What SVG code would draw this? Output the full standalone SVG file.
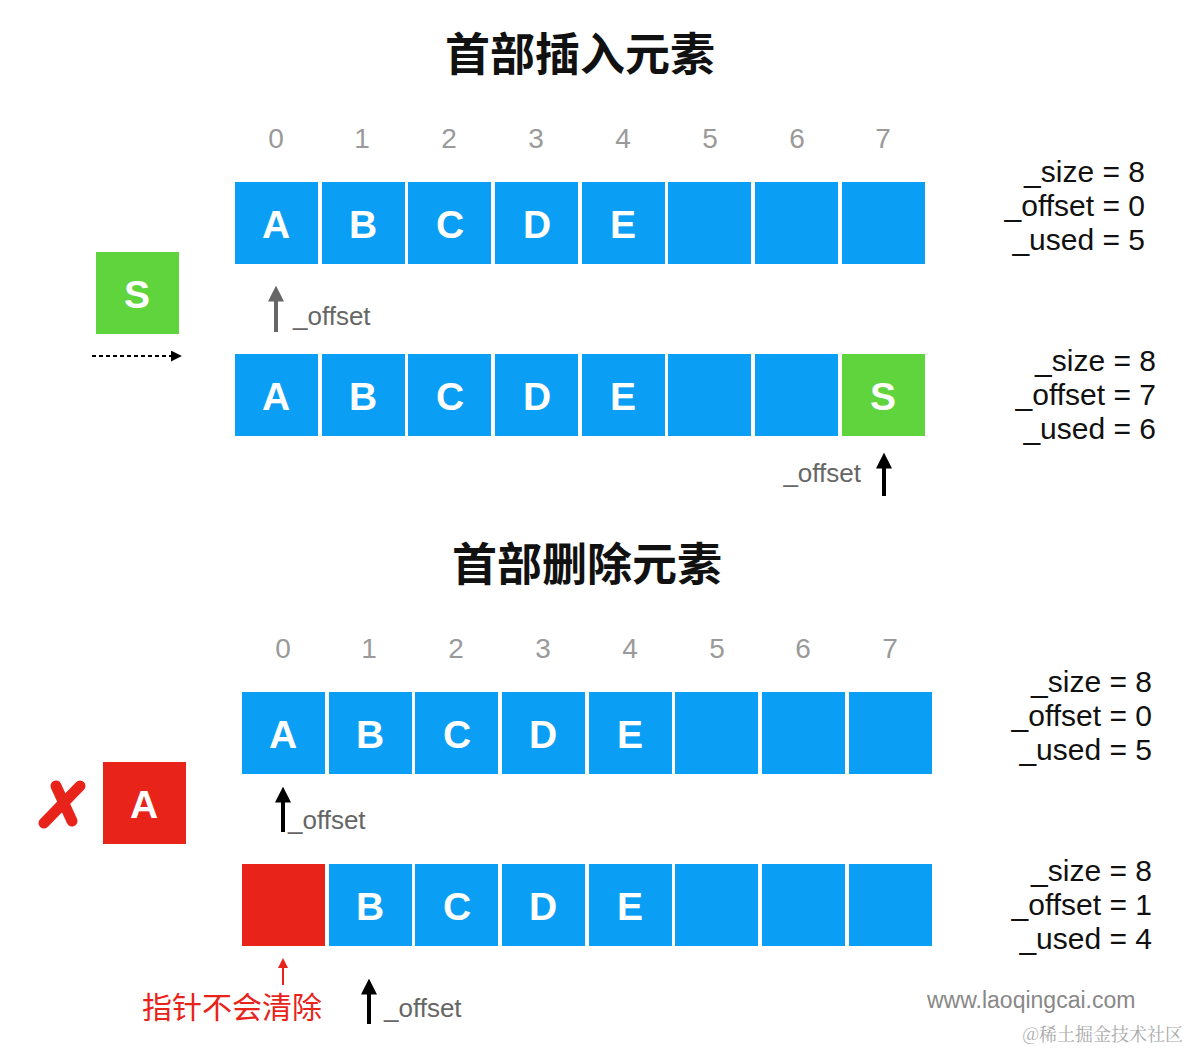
<svg xmlns="http://www.w3.org/2000/svg" width="1190" height="1052" viewBox="0 0 1190 1052">
<style>
.title{font-family:"Noto Sans CJK SC","Liberation Sans",sans-serif;font-weight:bold;font-size:45px;fill:#111;text-anchor:middle}
.idx{font-family:"Liberation Sans",Arial,sans-serif;font-size:28px;fill:#9a9a9a;text-anchor:middle}
.cell{fill:#0a9ff5}
.red{fill:#e8231a}
.green{fill:#5fd43d}
.lt{font-family:"Liberation Sans",Arial,sans-serif;font-weight:bold;font-size:39px;fill:#fff;text-anchor:middle}
.st{font-family:"Liberation Sans",Arial,sans-serif;font-size:30px;fill:#111;text-anchor:end}
.off{font-family:"Liberation Sans",Arial,sans-serif;font-size:26px;fill:#666}
</style>
<defs>
<marker id="ahBlack" viewBox="0 0 10 10" refX="1" refY="5" markerWidth="11" markerHeight="11" orient="auto" markerUnits="userSpaceOnUse"><path d="M0,0 L10,5 L0,10 Z" fill="#000"/></marker>
<marker id="hdBlack" viewBox="0 0 10 10" refX="1" refY="5" markerWidth="16" markerHeight="16" orient="auto" markerUnits="userSpaceOnUse"><path d="M0,0 L10,5 L0,10 Z" fill="#000"/></marker>
<marker id="hdGray" viewBox="0 0 10 10" refX="1" refY="5" markerWidth="16" markerHeight="16" orient="auto" markerUnits="userSpaceOnUse"><path d="M0,0 L10,5 L0,10 Z" fill="#666"/></marker>
<marker id="hdRed" viewBox="0 0 10 10" refX="1" refY="5" markerWidth="10" markerHeight="10" orient="auto" markerUnits="userSpaceOnUse"><path d="M0,0 L10,5 L0,10 Z" fill="#e8231a"/></marker>
</defs>

<g id="title1"><text class="title" x="580" y="71">首部插入元素</text></g>
<g id="title2"><text class="title" x="587" y="581">首部删除元素</text></g>

<g id="indices1">
<text class="idx" x="276" y="148">0</text><text class="idx" x="362" y="148">1</text><text class="idx" x="449" y="148">2</text><text class="idx" x="536" y="148">3</text><text class="idx" x="623" y="148">4</text><text class="idx" x="710" y="148">5</text><text class="idx" x="797" y="148">6</text><text class="idx" x="883" y="148">7</text>
</g>
<g id="indices2">
<text class="idx" x="283" y="658">0</text><text class="idx" x="369" y="658">1</text><text class="idx" x="456" y="658">2</text><text class="idx" x="543" y="658">3</text><text class="idx" x="630" y="658">4</text><text class="idx" x="717" y="658">5</text><text class="idx" x="803" y="658">6</text><text class="idx" x="890" y="658">7</text>
</g>

<g id="row1">
<rect class="cell" x="235" y="182" width="83" height="82"/><rect class="cell" x="322" y="182" width="83" height="82"/><rect class="cell" x="408" y="182" width="83" height="82"/><rect class="cell" x="495" y="182" width="83" height="82"/><rect class="cell" x="582" y="182" width="83" height="82"/><rect class="cell" x="668" y="182" width="83" height="82"/><rect class="cell" x="755" y="182" width="83" height="82"/><rect class="cell" x="842" y="182" width="83" height="82"/>
<text class="lt" x="276" y="238">A</text><text class="lt" x="363" y="238">B</text><text class="lt" x="450" y="238">C</text><text class="lt" x="537" y="238">D</text><text class="lt" x="623" y="238">E</text>
</g>
<g id="row2">
<rect class="cell" x="235" y="354" width="83" height="82"/><rect class="cell" x="322" y="354" width="83" height="82"/><rect class="cell" x="408" y="354" width="83" height="82"/><rect class="cell" x="495" y="354" width="83" height="82"/><rect class="cell" x="582" y="354" width="83" height="82"/><rect class="cell" x="668" y="354" width="83" height="82"/><rect class="cell" x="755" y="354" width="83" height="82"/><rect class="green" x="842" y="354" width="83" height="82"/>
<text class="lt" x="276" y="410">A</text><text class="lt" x="363" y="410">B</text><text class="lt" x="450" y="410">C</text><text class="lt" x="537" y="410">D</text><text class="lt" x="623" y="410">E</text><text class="lt" x="883" y="410">S</text>
</g>
<g id="row3">
<rect class="cell" x="242" y="692" width="83" height="82"/><rect class="cell" x="329" y="692" width="83" height="82"/><rect class="cell" x="415" y="692" width="83" height="82"/><rect class="cell" x="502" y="692" width="83" height="82"/><rect class="cell" x="589" y="692" width="83" height="82"/><rect class="cell" x="675" y="692" width="83" height="82"/><rect class="cell" x="762" y="692" width="83" height="82"/><rect class="cell" x="849" y="692" width="83" height="82"/>
<text class="lt" x="283" y="748">A</text><text class="lt" x="370" y="748">B</text><text class="lt" x="457" y="748">C</text><text class="lt" x="543" y="748">D</text><text class="lt" x="630" y="748">E</text>
</g>
<g id="row4">
<rect class="red" x="242" y="864" width="83" height="82"/><rect class="cell" x="329" y="864" width="83" height="82"/><rect class="cell" x="415" y="864" width="83" height="82"/><rect class="cell" x="502" y="864" width="83" height="82"/><rect class="cell" x="589" y="864" width="83" height="82"/><rect class="cell" x="675" y="864" width="83" height="82"/><rect class="cell" x="762" y="864" width="83" height="82"/><rect class="cell" x="849" y="864" width="83" height="82"/>
<text class="lt" x="370" y="920">B</text><text class="lt" x="457" y="920">C</text><text class="lt" x="543" y="920">D</text><text class="lt" x="630" y="920">E</text>
</g>

<g id="stats1"><text class="st" x="1145" y="182">_size = 8</text><text class="st" x="1145" y="216">_offset = 0</text><text class="st" x="1145" y="250">_used = 5</text></g>
<g id="stats2"><text class="st" x="1156" y="371">_size = 8</text><text class="st" x="1156" y="405">_offset = 7</text><text class="st" x="1156" y="439">_used = 6</text></g>
<g id="stats3"><text class="st" x="1152" y="692">_size = 8</text><text class="st" x="1152" y="726">_offset = 0</text><text class="st" x="1152" y="760">_used = 5</text></g>
<g id="stats4"><text class="st" x="1152" y="881">_size = 8</text><text class="st" x="1152" y="915">_offset = 1</text><text class="st" x="1152" y="949">_used = 4</text></g>

<g id="newS"><rect class="green" x="96" y="252" width="83" height="82"/><text class="lt" x="137" y="308">S</text></g>
<g id="removedA"><rect class="red" x="103" y="762" width="83" height="82"/><text class="lt" x="144" y="818">A</text></g>
<g id="xmark" stroke="#e8231a" stroke-width="11" stroke-linecap="round">
<line x1="56" y1="786" x2="72" y2="821"/><line x1="80" y1="786" x2="44" y2="823"/>
</g>

<g id="labels">
<text class="off" x="293" y="325">_offset</text>
<text class="off" x="861" y="482" text-anchor="end">_offset</text>
<text class="off" x="288" y="829">_offset</text>
<text class="off" x="384" y="1017">_offset</text>
<text x="232" y="1018" font-family="Noto Sans CJK SC,Liberation Sans,sans-serif" font-size="30" fill="#e8231a" text-anchor="middle">指针不会清除</text>
<text x="927" y="1008" font-family="Liberation Sans,Arial,sans-serif" font-size="23" fill="#888">www.laoqingcai.com</text>
<text x="1183" y="1041" font-family="Noto Serif CJK SC,Noto Sans CJK SC,serif" font-size="18" fill="#aaa" text-anchor="end">@稀土掘金技术社区</text>
</g>
<g id="connectors" fill="none">
<line x1="92" y1="356" x2="172" y2="356" stroke="#000" stroke-width="2" stroke-dasharray="4,3" marker-end="url(#ahBlack)"/>
<line x1="276" y1="332" x2="276" y2="300" stroke="#666" stroke-width="4" marker-end="url(#hdGray)"/>
<line x1="884" y1="496" x2="884" y2="467" stroke="#000" stroke-width="4" marker-end="url(#hdBlack)"/>
<line x1="283" y1="832" x2="283" y2="801" stroke="#000" stroke-width="4" marker-end="url(#hdBlack)"/>
<line x1="283" y1="985" x2="283" y2="967" stroke="#e8231a" stroke-width="2" marker-end="url(#hdRed)"/>
<line x1="369" y1="1024" x2="369" y2="993" stroke="#000" stroke-width="4" marker-end="url(#hdBlack)"/>
</g>
</svg>
